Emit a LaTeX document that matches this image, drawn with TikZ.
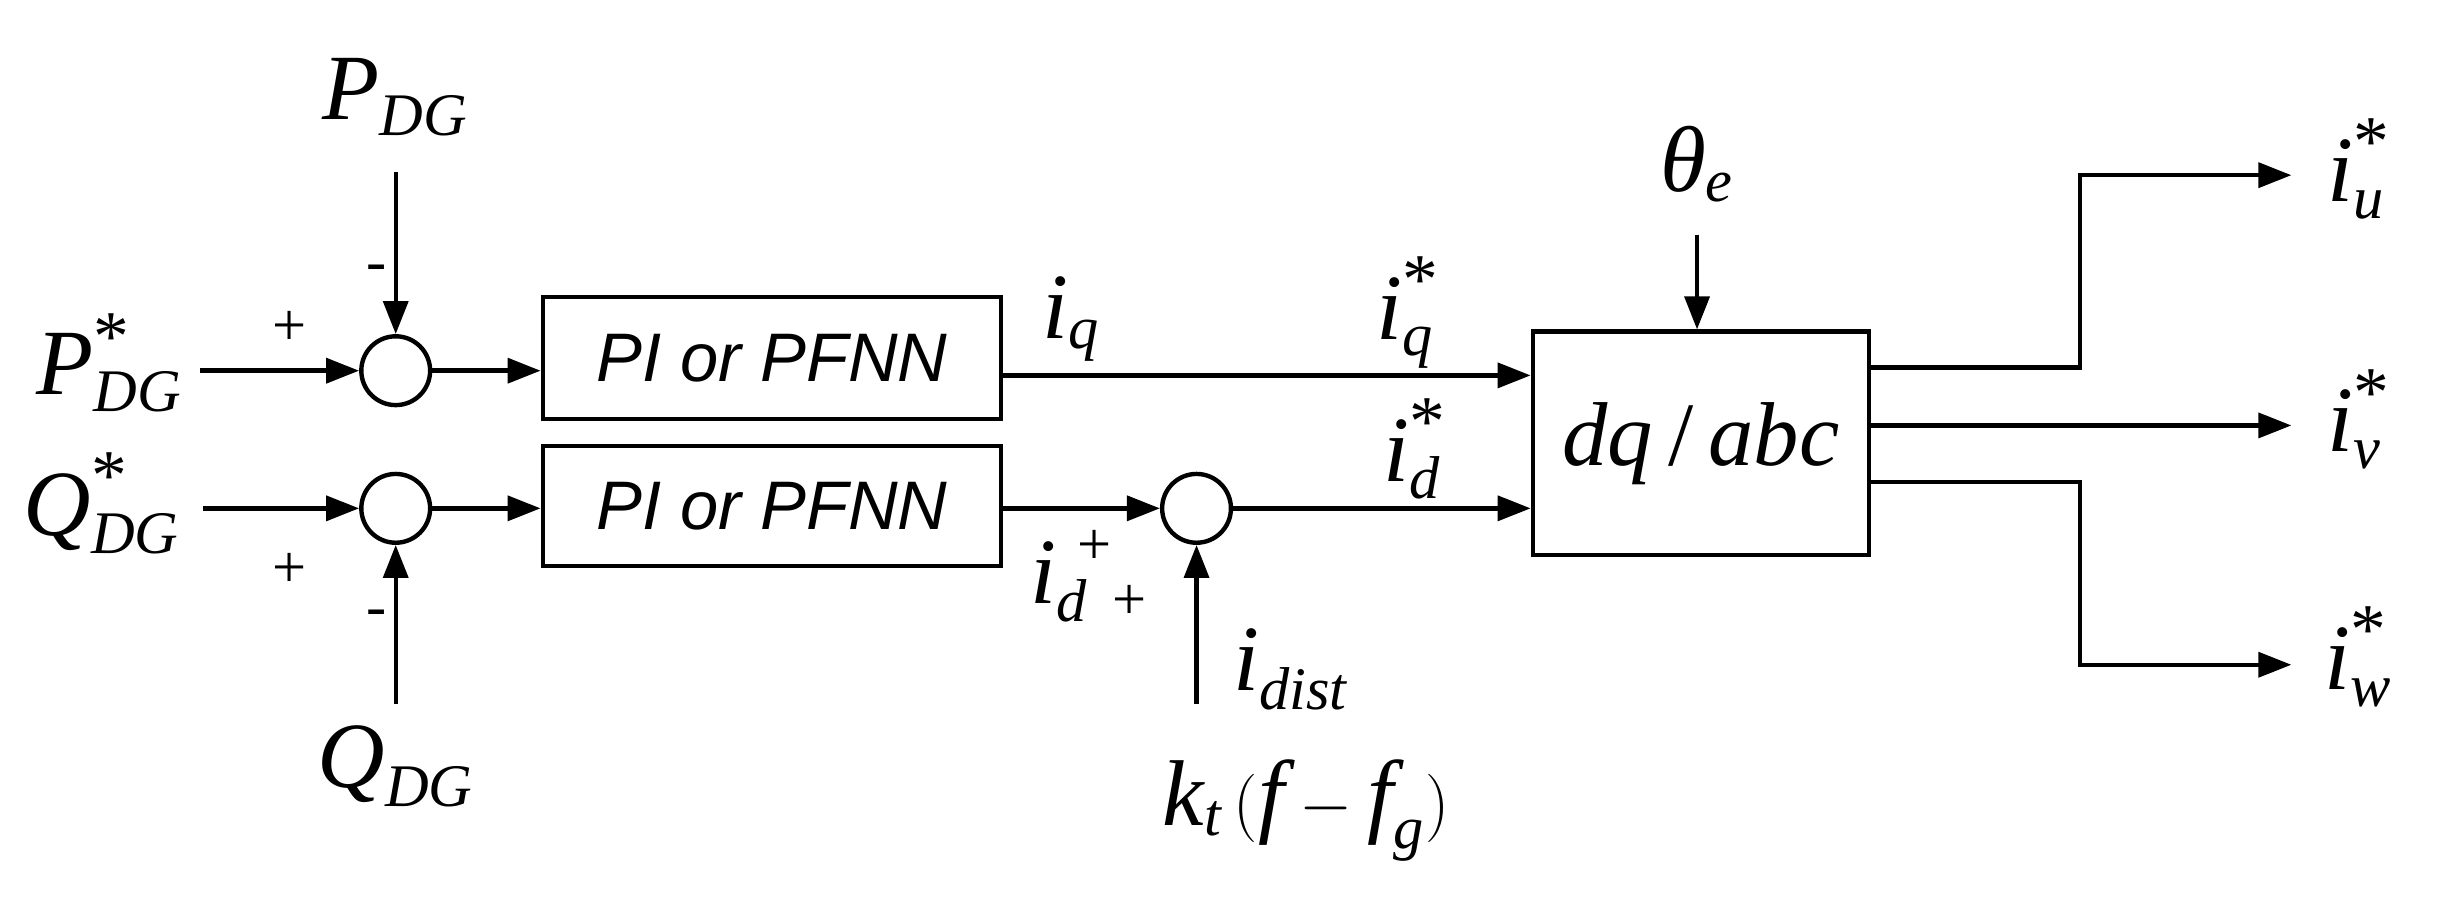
\documentclass[tikz,border=0pt]{standalone}
\usepackage{fontspec}
\setmainfont{Liberation Serif}
\newfontfamily\ssf{Liberation Sans}
\usetikzlibrary{arrows.meta}
\newcommand\mysub[1]{\mbox{\fontsize{22}{24}\selectfont\itshape #1}}
\newcommand\mysup{\mbox{\fontsize{26}{28}\selectfont *}}
\newcommand\mym[1]{\mbox{\itshape #1}}
\begin{document}
\begin{tikzpicture}[x=0.02cm,y=-0.02cm,line width=1.6pt,
  sum/.style={circle,draw,minimum size=0.88cm,inner sep=0pt},
  blk/.style={draw,rectangle,inner sep=0pt},
  arr/.style={-{Triangle[length=12pt,width=9pt]}},
  lbl/.style={font=\fontsize{34}{40}\selectfont},
  sgn/.style={font=\fontsize{22}{26}\selectfont}]
\useasboundingbox (0,0) rectangle (1560,575);
\node[sum] (s1) at (253,237) {};
\node[sum] (s2) at (253,325) {};
\node[sum] (s3) at (765,325) {};
\node[blk,minimum width=5.86cm,minimum height=1.56cm,font=\ssf\itshape\fontsize{25}{28}\selectfont] (b1) at (493.5,229) {PI or PFNN};
\node[blk,minimum width=5.86cm,minimum height=1.54cm,font=\ssf\itshape\fontsize{25}{28}\selectfont] (b2) at (493.5,323.5) {PI or PFNN};
\node[blk,minimum width=4.3cm,minimum height=2.86cm,font=\fontsize{33}{38}\selectfont] (dq) at (1087.5,283.5) {\textit{dq}\,/\,\textit{abc}};
% inputs
\node[lbl] (pref) at (70,232) {$\mym{P}^{\mysup}_{\mysub{DG}}$};
\coordinate (pin) at (128,237);
\draw[arr] (pin) -- (s1.west);
\node[sgn] at (185,210) {+};
\node[lbl] (pdg) at (253,62) {$\mym{P}_{\mysub{DG}}$};
\coordinate (ptop) at (253,110);
\draw[arr] (ptop) -- (s1.north);
\node[sgn] at (241,175) {-};
\node[lbl] (qref) at (65,322) {$\mym{Q}^{\mysup}_{\mysub{DG}}$};
\coordinate (qin) at (130,325);
\draw[arr] (qin) -- (s2.west);
\node[sgn] at (185,365) {+};
\node[lbl] (qdg) at (253,490) {$\mym{Q}_{\mysub{DG}}$};
\coordinate (qbot) at (253,450);
\draw[arr] (qbot) -- (s2.south);
\node[sgn] at (241,395) {-};
\draw[arr] (s1.east) -- (b1.west|-s1.east);
\draw[arr] (s2.east) -- (b2.west|-s2.east);
% middle
\coordinate (b1o) at (640,240);
\draw[arr] (b1o) -- (dq.west|-b1o);
\node[lbl] at (685,204) {$\mym{i}_{\mysub{q}}$};
\node[lbl] at (900,200) {$\mym{i}^{\mysup}_{\mysub{q}}$};
\draw[arr] (b2.east|-s3.west) -- (s3.west);
\node[lbl] at (677,372) {$\mym{i}_{\mysub{d}}$};
\node[sgn] at (700,350) {+};
\node[sgn] at (722,385) {+};
\coordinate (dbot) at (765,450);
\draw[arr] (dbot) -- (s3.south);
\node[lbl] at (825,428) {$\mym{i}_{\mysub{dist}}$};
\node[lbl] at (835,518) {$\mym{k}_{\mysub{t}}\,(\mym{f}-\mym{f}_{\mysub{g}})$};
\draw[arr] (s3.east) -- (dq.west|-s3.east);
\node[lbl] at (905,287) {$\mym{i}^{\mysup}_{\mysub{d}}$};
\node[lbl] at (1085,105) {$\mym{θ}_{\mysub{e}}$};
\coordinate (ttop) at (1085,150);
\draw[arr] (ttop) -- (dq.north-|ttop);
% outputs
\coordinate (ou) at (1465,112);
\coordinate (ov) at (1465,272);
\coordinate (ow) at (1465,425);
\draw[arr] (1195,235) -- (1330,235) -- (1330,112) -- (ou);
\draw[arr] (1195,272) -- (ov);
\draw[arr] (1195,308) -- (1330,308) -- (1330,425) -- (ow);
\node[lbl] at (1508,108) {$\mym{i}^{\mysup}_{\mysub{u}}$};
\node[lbl] at (1508,268) {$\mym{i}^{\mysup}_{\mysub{v}}$};
\node[lbl] at (1508,420) {$\mym{i}^{\mysup}_{\mysub{w}}$};
\end{tikzpicture}
\end{document}
